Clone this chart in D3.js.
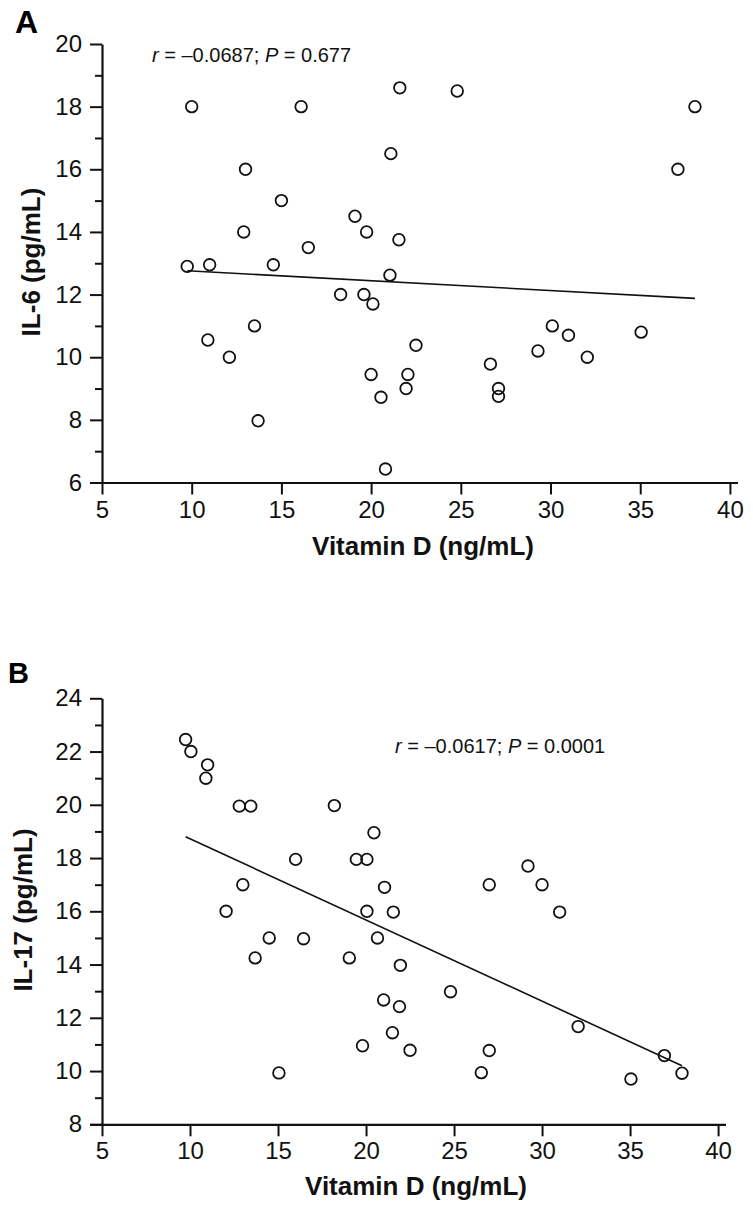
<!DOCTYPE html>
<html>
<head>
<meta charset="utf-8">
<script src="https://cdn.jsdelivr.net/npm/d3@7"></script>
<style>
  html, body { margin: 0; padding: 0; background: #fff; }
  svg { display: block; font-family: "Liberation Sans", Arial, Helvetica, sans-serif; }
</style>
</head>
<body>
<svg id="chart" width="753" height="1211"></svg>
<script>
// ---------- Data ----------
// Panel A: Vitamin D vs IL-6
const vitaminD_A = [10, 16.1, 13, 15, 12.9, 19.1, 19.75, 16.5, 21.6, 24.8, 38.05, 21.1, 37.1, 21.55,
  9.75, 11, 14.55, 18.3, 19.6, 20.1, 13.5, 10.9, 12.1, 20, 13.7, 20.55, 21.05, 22.5, 22.05, 21.95,
  20.8, 26.65, 27.1, 27.1, 29.3, 30.1, 31, 32.05, 35.05];
const il6 = [18, 18, 16, 15, 14, 14.5, 14, 13.5, 18.6, 18.5, 18, 16.5, 16, 13.75,
  12.9, 12.95, 12.95, 12, 12, 11.7, 11, 10.55, 10, 9.45, 7.97, 8.72, 12.62, 10.38, 9.45, 9.0,
  6.43, 9.78, 9.0, 8.75, 10.2, 11, 10.7, 10, 10.8];
const fitA_x = [9.75, 38.05];
const fitA_y = [12.76, 11.88];

// Panel B: Vitamin D vs IL-17
const vitaminD_B = [9.75, 10.05, 11, 10.9, 12.8, 13.45, 18.2, 20.45, 16, 19.45, 20.05, 13, 12.05, 20.05,
  21.05, 21.55, 29.2, 27, 30, 31, 14.5, 16.45, 13.7, 19.05, 20.65, 19.8, 15.05, 21, 21.95, 24.8,
  21.9, 21.5, 22.5, 27, 26.55, 32.05, 36.95, 37.95, 35.05];
const il17 = [22.45, 22, 21.5, 21, 19.95, 19.95, 19.97, 18.95, 17.95, 17.95, 17.95, 17, 16, 16,
  16.9, 15.97, 17.7, 17, 17, 15.97, 15, 14.97, 14.25, 14.25, 15, 10.95, 9.93, 12.67, 13.97, 12.98,
  12.42, 11.44, 10.78, 10.77, 9.94, 11.67, 10.58, 9.92, 9.7];
const fitB_x = [9.75, 37.95];
const fitB_y = [18.8, 10.2];

// Ticks and labels
const xTicks = [5, 10, 15, 20, 25, 30, 35, 40];
const yTicksA = [6, 8, 10, 12, 14, 16, 18, 20];
const yMinorA = [7, 9, 11, 13, 15, 17, 19];
const yTicksB = [8, 10, 12, 14, 16, 18, 20, 22, 24];
const yMinorB = [9, 11, 13, 15, 17, 19, 21, 23];
const xTitle = "Vitamin D (ng/mL)";
const yTitleA = "IL-6 (pg/mL)";
const yTitleB = "IL-17 (pg/mL)";
const statsA = { r: "–0.0687", p: "0.677" };
const statsB = { r: "–0.0617", p: "0.0001" };

// ---------- Drawing ----------
const svg = d3.select("#chart");

function panel(cfg) {
  const g = svg.append("g");
  const x = d3.scaleLinear().domain([5, 40.45]).range([102, cfg.xRight]);
  const y = d3.scaleLinear().domain(cfg.yDomain).range([cfg.yBottom, cfg.yTop]);

  // minor y ticks
  const yMinor = g.append("g").attr("transform", "translate(102,0)")
    .call(d3.axisLeft(y).tickValues(cfg.yMinor).tickSize(7).tickSizeOuter(0).tickFormat(""));
  yMinor.select(".domain").remove();
  yMinor.selectAll("line").attr("stroke", "#111").attr("stroke-width", 2);

  // major y axis
  const yAx = g.append("g").attr("transform", "translate(102,0)")
    .call(d3.axisLeft(y).tickValues(cfg.yTicks).tickSize(12).tickSizeOuter(0).tickPadding(8));
  yAx.select(".domain").attr("stroke", "#111").attr("stroke-width", 2.2);
  yAx.selectAll("line").attr("stroke", "#111").attr("stroke-width", 2);
  yAx.selectAll("text").attr("font-size", 24).attr("fill", "#111")
    .attr("font-family", "Liberation Sans, Arial, sans-serif");

  // x axis
  const xAx = g.append("g").attr("transform", `translate(0,${cfg.yBottom})`)
    .call(d3.axisBottom(x).tickValues(xTicks).tickSize(12).tickSizeOuter(0).tickPadding(6));
  xAx.select(".domain").attr("stroke", "#111").attr("stroke-width", 2.2)
    .attr("d", `M90,0.5H${cfg.xRight}`);
  xAx.selectAll("line").attr("stroke", "#111").attr("stroke-width", 2);
  xAx.selectAll("text").attr("font-size", 24).attr("fill", "#111")
    .attr("font-family", "Liberation Sans, Arial, sans-serif");

  // regression line
  const line = d3.line().x(d => x(d[0])).y(d => y(d[1]));
  g.append("path")
    .datum(d3.zip(cfg.fitX, cfg.fitY))
    .attr("d", line)
    .attr("fill", "none").attr("stroke", "#111").attr("stroke-width", 1.6);

  // points
  g.append("g").selectAll("circle")
    .data(d3.zip(cfg.xs, cfg.ys))
    .join("circle")
    .attr("cx", d => x(d[0])).attr("cy", d => y(d[1]))
    .attr("r", 5.8)
    .attr("fill", "none").attr("stroke", "#111").attr("stroke-width", 1.8);

  // axis titles
  g.append("text")
    .attr("x", cfg.xTitleX).attr("y", cfg.xTitleY)
    .attr("text-anchor", "middle").attr("font-size", 26).attr("font-weight", "bold").attr("fill", "#111")
    .text(xTitle);
  g.append("text")
    .attr("transform", `translate(${cfg.yTitleX},${cfg.yTitleY}) rotate(-90)`)
    .attr("text-anchor", "middle").attr("font-size", 26).attr("font-weight", "bold").attr("fill", "#111")
    .text(cfg.yTitle);

  // stats annotation
  const t = g.append("text").attr("x", cfg.statX).attr("y", cfg.statY)
    .attr("font-size", 20).attr("fill", "#111");
  t.append("tspan").attr("font-style", "italic").text("r");
  t.append("tspan").text(` = ${cfg.stats.r}; `);
  t.append("tspan").attr("font-style", "italic").text("P");
  t.append("tspan").text(` = ${cfg.stats.p}`);

  // panel letter
  g.append("text").attr("x", cfg.letterX).attr("y", cfg.letterY)
    .attr("font-size", cfg.letterSize).attr("font-weight", "bold").attr("fill", "#000")
    .text(cfg.letter);
}

panel({
  xs: vitaminD_A, ys: il6, fitX: fitA_x, fitY: fitA_y,
  yDomain: [6, 20], yTicks: yTicksA, yMinor: yMinorA,
  yBottom: 482.5, yTop: 44, xRight: 738,
  xTitleX: 423, xTitleY: 555, yTitle: yTitleA, yTitleX: 40, yTitleY: 262,
  stats: statsA, statX: 152, statY: 62,
  letter: "A", letterX: 15, letterY: 33, letterSize: 32
});

panel({
  xs: vitaminD_B, ys: il17, fitX: fitB_x, fitY: fitB_y,
  yDomain: [8, 24], yTicks: yTicksB, yMinor: yMinorB,
  yBottom: 1124.3, yTop: 698.3, xRight: 726,
  xTitleX: 416, xTitleY: 1195, yTitle: yTitleB, yTitleX: 32, yTitleY: 910,
  stats: statsB, statX: 395, statY: 753,
  letter: "B", letterX: 8, letterY: 683, letterSize: 29
});
</script>
</body>
</html>
